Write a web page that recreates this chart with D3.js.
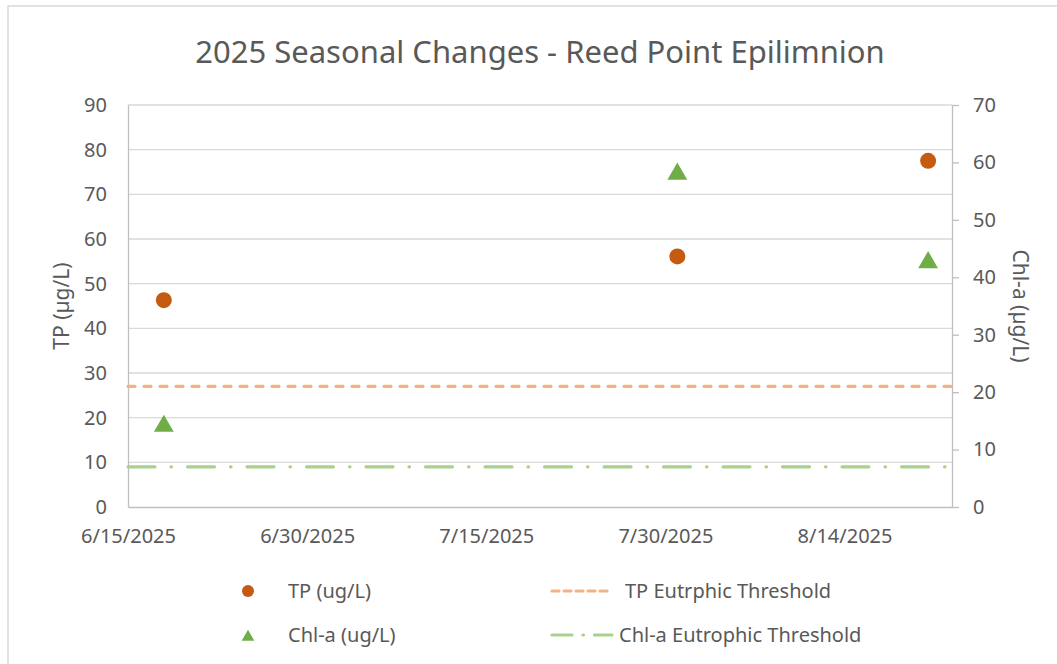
<!DOCTYPE html>
<html>
<head>
<meta charset="utf-8">
<script src="https://cdn.jsdelivr.net/npm/d3@7"></script>
<style>
  body { margin: 0; background: #fff; }
  svg { font-family: "Noto Sans", "Open Sans", sans-serif; }
</style>
</head>
<body>
<svg id="chart" width="1057" height="664"></svg>
<script>
// Sample data
const sampleDates = ["6/18/2025", "7/31/2025", "8/21/2025"];
const tpValues = [46.3, 56.1, 77.5];     // TP (ug/L), left axis
const chlValues = [14.6, 58.5, 43.1];    // Chl-a (ug/L), right axis

// Thresholds
const tpThreshold = 27;   // on TP axis
const chlThreshold = 7;   // on Chl-a axis

// Axis ticks
const xTickLabels = ["6/15/2025", "6/30/2025", "7/15/2025", "7/30/2025", "8/14/2025"];
const xDomain = ["6/15/2025", "8/23/2025"];
const tpTicks = [0, 10, 20, 30, 40, 50, 60, 70, 80, 90];
const chlTicks = [0, 10, 20, 30, 40, 50, 60, 70];

const parseDate = d3.timeParse("%m/%d/%Y");
const svg = d3.select("#chart");

const plot = { left: 128, right: 952, top: 105, bottom: 507 };

// Chart border
svg.append("rect")
  .attr("x", 8).attr("y", 6)
  .attr("width", 1060).attr("height", 680)
  .attr("fill", "#fff")
  .attr("stroke", "#d9d9d9")
  .attr("stroke-width", 1.5);

// Scales
const x = d3.scaleTime()
  .domain(xDomain.map(parseDate))
  .range([plot.left, plot.right]);

const yTP = d3.scaleLinear()
  .domain([0, 90])
  .range([plot.bottom, plot.top]);

const yChl = d3.scaleLinear()
  .domain([0, 70])
  .range([plot.bottom, plot.top]);

const textColor = "#595959";
const tickFont = "20px";

// Gridlines
svg.append("g")
  .selectAll("line")
  .data(tpTicks.filter(d => d > 0))
  .enter()
  .append("line")
  .attr("x1", plot.left).attr("x2", plot.right)
  .attr("y1", d => yTP(d)).attr("y2", d => yTP(d))
  .attr("stroke", "#d9d9d9")
  .attr("stroke-width", 1.3);

// Left axis
const leftAxis = svg.append("g")
  .attr("transform", `translate(${plot.left},0)`)
  .call(d3.axisLeft(yTP).tickValues(tpTicks).tickSize(0).tickPadding(21));
leftAxis.select(".domain").attr("stroke", "#bfbfbf").attr("stroke-width", 1.3);
leftAxis.selectAll("text")
  .attr("fill", textColor)
  .attr("font-size", tickFont)
  .attr("font-family", "Noto Sans");

// Right axis
const rightAxis = svg.append("g")
  .attr("transform", `translate(${plot.right},0)`)
  .call(d3.axisRight(yChl).tickValues(chlTicks).tickSize(7).tickPadding(14).tickSizeOuter(0));
rightAxis.select(".domain").attr("stroke", "#bfbfbf").attr("stroke-width", 1.3);
rightAxis.selectAll(".tick line").attr("stroke", "#bfbfbf").attr("stroke-width", 1.3);
rightAxis.selectAll("text")
  .attr("fill", textColor)
  .attr("font-size", tickFont)
  .attr("font-family", "Noto Sans");

// Bottom axis
const bottomAxis = svg.append("g")
  .attr("transform", `translate(0,${plot.bottom})`)
  .call(d3.axisBottom(x)
    .tickValues(xTickLabels.map(parseDate))
    .tickFormat(d3.timeFormat("%-m/%-d/%Y"))
    .tickSize(0)
    .tickPadding(22)
    .tickSizeOuter(0));
bottomAxis.select(".domain").attr("stroke", "#bfbfbf").attr("stroke-width", 1.3);
bottomAxis.selectAll("text")
  .attr("fill", textColor)
  .attr("font-size", tickFont)
  .attr("font-family", "Noto Sans");

// Threshold lines
const tpColor = "#c55a11";
const chlColor = "#70ad47";
const tpThreshColor = "#f4b183";
const chlThreshColor = "#a9d18e";

svg.append("line")
  .attr("x1", x(parseDate(xDomain[0]))).attr("x2", x(parseDate(xDomain[1])))
  .attr("y1", yTP(tpThreshold)).attr("y2", yTP(tpThreshold))
  .attr("stroke", tpThreshColor)
  .attr("stroke-width", 3.2)
  .attr("stroke-linecap", "round")
  .attr("stroke-dasharray", "7,9");

svg.append("line")
  .attr("x1", x(parseDate(xDomain[0]))).attr("x2", x(parseDate(xDomain[1])))
  .attr("y1", yChl(chlThreshold)).attr("y2", yChl(chlThreshold))
  .attr("stroke", chlThreshColor)
  .attr("stroke-width", 3.2)
  .attr("stroke-linecap", "round")
  .attr("stroke-dasharray", "27,16,0.5,16");

// Points
const dates = sampleDates.map(parseDate);

svg.append("g")
  .selectAll("circle")
  .data(tpValues)
  .enter()
  .append("circle")
  .attr("cx", (d, i) => x(dates[i]))
  .attr("cy", d => yTP(d))
  .attr("r", 8)
  .attr("fill", tpColor);

const triangle = d3.symbol().type(d3.symbolTriangle).size(170);
svg.append("g")
  .selectAll("path")
  .data(chlValues)
  .enter()
  .append("path")
  .attr("d", triangle)
  .attr("transform", (d, i) => `translate(${x(dates[i])},${yChl(d) + 3})`)
  .attr("fill", chlColor);

// Title
svg.append("text")
  .attr("x", 540)
  .attr("y", 63)
  .attr("text-anchor", "middle")
  .attr("font-size", "31px")
  .attr("fill", textColor)
  .text("2025 Seasonal Changes - Reed Point Epilimnion");

// Axis titles
svg.append("text")
  .attr("transform", "translate(69,306) rotate(-90)")
  .attr("text-anchor", "middle")
  .attr("font-size", "21px")
  .attr("fill", textColor)
  .text("TP (\u00b5g/L)");

svg.append("text")
  .attr("transform", "translate(1013,306) rotate(90)")
  .attr("text-anchor", "middle")
  .attr("font-size", "21px")
  .attr("fill", textColor)
  .text("Chl-a (\u00b5g/L)");

// Legend
const legend = svg.append("g");
const legendFont = "20px";

legend.append("circle")
  .attr("cx", 248).attr("cy", 591).attr("r", 6)
  .attr("fill", tpColor);
legend.append("text")
  .attr("x", 288).attr("y", 598)
  .attr("font-size", legendFont).attr("fill", textColor)
  .text("TP (ug/L)");

legend.append("path")
  .attr("d", d3.symbol().type(d3.symbolTriangle).size(70))
  .attr("transform", "translate(248,637)")
  .attr("fill", chlColor);
legend.append("text")
  .attr("x", 288).attr("y", 642)
  .attr("font-size", legendFont).attr("fill", textColor)
  .text("Chl-a (ug/L)");

legend.append("line")
  .attr("x1", 552).attr("x2", 612)
  .attr("y1", 591).attr("y2", 591)
  .attr("stroke", tpThreshColor)
  .attr("stroke-width", 3.2)
  .attr("stroke-linecap", "round")
  .attr("stroke-dasharray", "7,5");
legend.append("text")
  .attr("x", 625).attr("y", 598)
  .attr("font-size", legendFont).attr("fill", textColor)
  .text("TP Eutrphic Threshold");

legend.append("line")
  .attr("x1", 552).attr("x2", 612)
  .attr("y1", 635).attr("y2", 635)
  .attr("stroke", chlThreshColor)
  .attr("stroke-width", 3.2)
  .attr("stroke-linecap", "round")
  .attr("stroke-dasharray", "20,11,0.5,11");
legend.append("text")
  .attr("x", 619).attr("y", 642)
  .attr("font-size", legendFont).attr("fill", textColor)
  .text("Chl-a Eutrophic Threshold");
</script>
</body>
</html>
